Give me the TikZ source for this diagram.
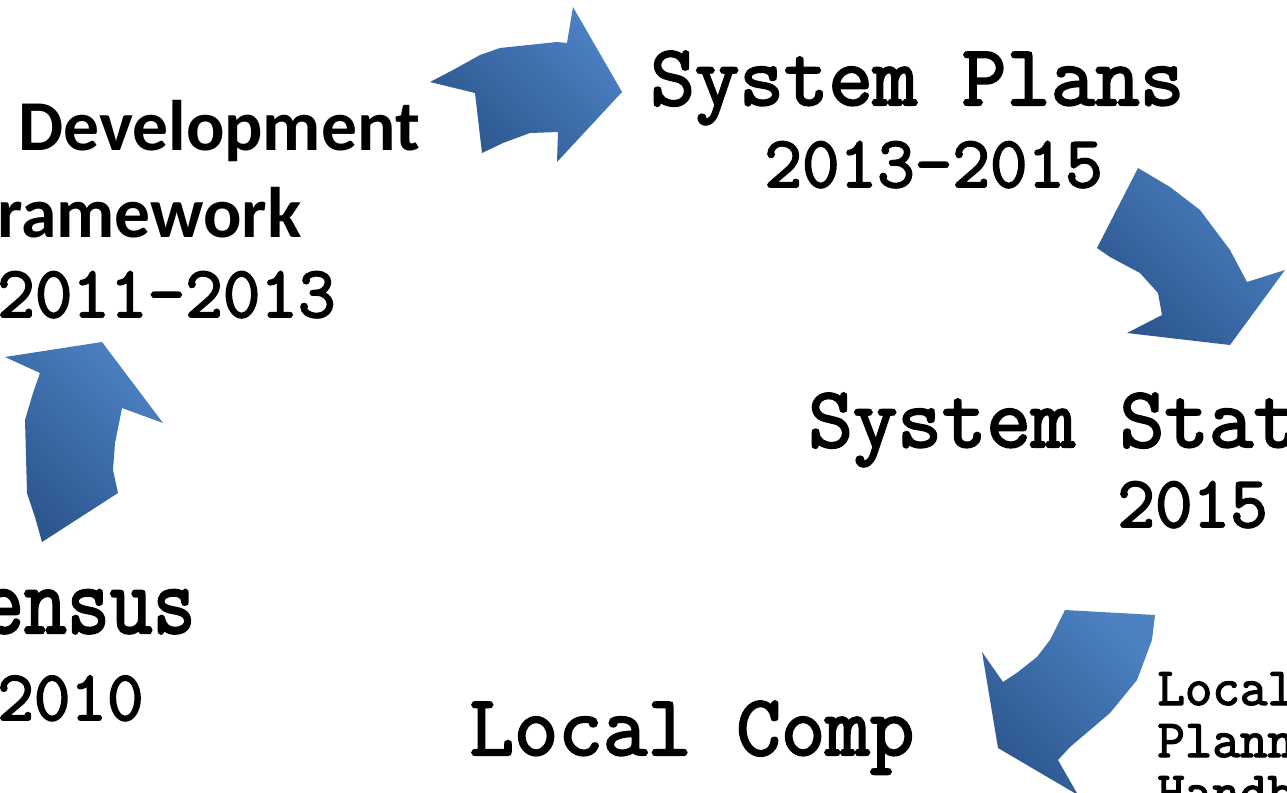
\documentclass[tikz,border=0pt]{standalone}
\usepackage{fontspec}
\setmainfont{Carlito}
\newfontfamily\slabmono[FakeBold=2.5]{Latin Modern Mono}
\definecolor{arrowlight}{RGB}{76,129,194}
\definecolor{arrowdark}{RGB}{44,86,142}
\tikzset{
  cyclearrow/.style={top color=arrowlight, bottom color=arrowdark, shading angle=-45},
  stagetext/.style={inner sep=0pt, font=\bfseries\fontsize{35.8}{40}\selectfont},
  bigmono/.style={inner sep=0pt, font=\slabmono\bfseries\fontsize{43.2}{46}\selectfont},
  yearmono/.style={inner sep=0pt, font=\slabmono\bfseries\fontsize{36.5}{40}\selectfont},
  smallmono/.style={inner sep=0pt, font=\slabmono\bfseries\fontsize{26.7}{30}\selectfont}
}
\begin{document}
\begin{tikzpicture}[x={(0.5pt,0)}, y={(0,-0.5pt)}]
\useasboundingbox (0,0) rectangle (1287,793);
\clip (0,0) rectangle (1287,793);
% arrows of the cycle
\shade[cyclearrow] (430,82) -- (453,70) -- (480,55) -- (500,48) -- (557,42) -- (567,43) -- (573,7) -- (622,92) -- (557,162) -- (558,132) -- (530,133) -- (503,143) -- (482,153) -- (475,93) -- cycle;
\shade[cyclearrow] (1138,168) -- (1097,248) -- (1110,257) -- (1140,273) -- (1158,293) -- (1162,315) -- (1127,333) -- (1230,345) -- (1285,270) -- (1247,282) -- (1230,250) -- (1200,210) -- (1170,187) -- cycle;
\shade[cyclearrow] (1065,610) -- (1155,615) -- (1152,640) -- (1137,680) -- (1110,713) -- (1070,747) -- (1058,760) -- (1078,795) -- (998,748) -- (982,652) -- (1003,682) -- (1018,672) -- (1037,657) -- (1050,640) -- cycle;
\shade[cyclearrow] (5,357) -- (102,342) -- (163,423) -- (122,408) -- (115,443) -- (113,470) -- (118,493) -- (42,542) -- (35,517) -- (27,493) -- (25,420) -- (33,393) -- (40,373) -- cycle;
% stages
\node[stagetext, anchor=base west] (develop) at (18,150) {Development};
\node[stagetext, anchor=base east] (frame) at (302,237) {Framework};
\node[yearmono, anchor=base east] (frameyear) at (336,317) {2011-2013};
\node[bigmono, anchor=base west] (plans) at (650,105) {System Plans};
\node[yearmono, anchor=base west] (plansyear) at (764,187) {2013-2015};
\node[bigmono, anchor=base west] (statements) at (808,447) {System Statements};
\node[yearmono, anchor=base west] (statementsyear) at (1117,527) {2015};
\node[anchor=base east, inner sep=0pt] (census) at (196,633) {\scalebox{0.85}[1]{\slabmono\bfseries\fontsize{49}{54}\selectfont Census}};
\node[yearmono, anchor=base east, font=\slabmono\bfseries\fontsize{35.5}{38}\selectfont] (censusyear) at (144,720) {2010};
\node[bigmono, anchor=base west] (localcomp) at (469,755) {Local Comp};
\node[smallmono, anchor=base west] (handbook1) at (1157,705) {Local};
\node[smallmono, anchor=base west] (handbook2) at (1157,757) {Planning};
\node[smallmono, anchor=base west] (handbook3) at (1157,809) {Handbook};
\end{tikzpicture}
\end{document}
